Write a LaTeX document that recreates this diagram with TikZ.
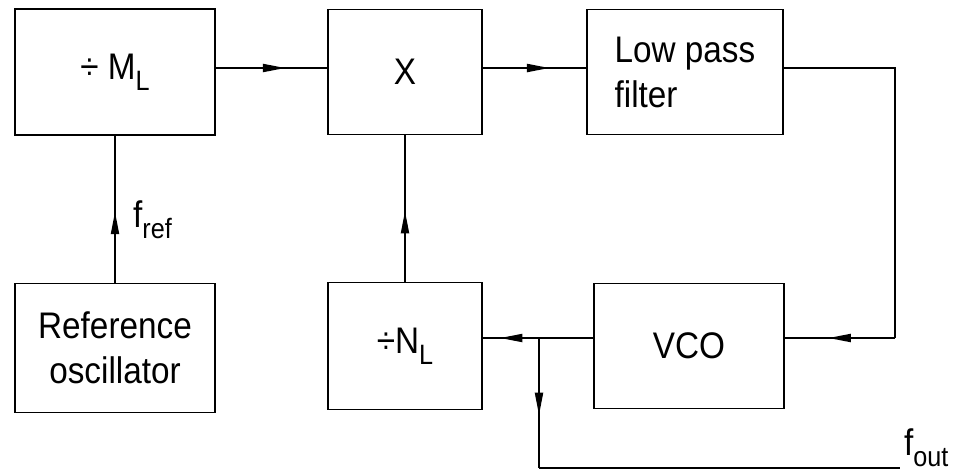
\documentclass[tikz,border=0pt]{standalone}
\usepackage{fontspec}
\setmainfont{Liberation Sans}[FakeStretch=0.9]
\usetikzlibrary{decorations.markings}
\newcommand\sbs[1]{\raisebox{-0.3em}{\fontsize{28}{28}\selectfont #1}}
\tikzset{
  blk/.style={draw, line width=1.6pt, inner sep=0pt, font=\fontsize{37}{45}\selectfont},
  wire/.style={line width=1.3pt},
  lbl/.style={inner sep=0pt, font=\fontsize{37}{45}\selectfont},
  midarrow/.style={postaction={decorate}, decoration={markings, mark=at position #1 with {\fill (0pt,0pt) -- (-22pt,4.3pt) -- (-22pt,-4.3pt) -- cycle;}}}
}
\begin{document}
\begin{tikzpicture}[x=1pt,y=-1pt]
\fill[white] (0,0) rectangle (970,475);
\useasboundingbox (0,0) rectangle (970,475);
\node[blk, minimum width=200pt, minimum height=126pt] (m) at (115,72) {÷ M\sbs{L}};
\node[blk, minimum width=154pt, minimum height=125pt] (x) at (405,72) {X};
\node[blk, minimum width=196pt, minimum height=125pt, align=left] (lpf) at (685,72) {Low pass\\filter};
\node[blk, minimum width=200pt, minimum height=129pt, align=center] (ref) at (115,348) {Reference\\oscillator};
\node[blk, minimum width=154pt, minimum height=127pt] (n) at (405,346) {÷N\sbs{L}};
\node[blk, minimum width=190pt, minimum height=125pt] (vco) at (689,346) {VCO};
\coordinate (c1) at (895,338);
\coordinate (br) at (539,338);
\coordinate (c2) at (539,468);
\coordinate (c3) at (900,468);
\draw[wire, midarrow=0.62] ([yshift=4pt]m.east) -- ([yshift=4pt]x.west);
\draw[wire, midarrow=0.64] ([yshift=4pt]x.east) -- ([yshift=4pt]lpf.west);
\draw[wire, midarrow=0.48] (ref.north) -- (m.south);
\draw[wire, midarrow=0.48] (n.north) -- (x.south);
\draw[wire] ([yshift=4pt]lpf.east) -| (c1);
\draw[wire, midarrow=0.6] (c1) -- ([yshift=8pt]vco.east);
\draw[wire, midarrow=0.84] ([yshift=8pt]vco.west) -- ([yshift=8pt]n.east);
\draw[wire, midarrow=0.59] (br) -- (c2);
\draw[wire] (c2) -- (c3);
\node[lbl, anchor=base west] (fref) at (133,227) {f\sbs{ref}};
\node[lbl, anchor=base west] (fout) at (904,455) {f\sbs{out}};
\end{tikzpicture}
\end{document}
